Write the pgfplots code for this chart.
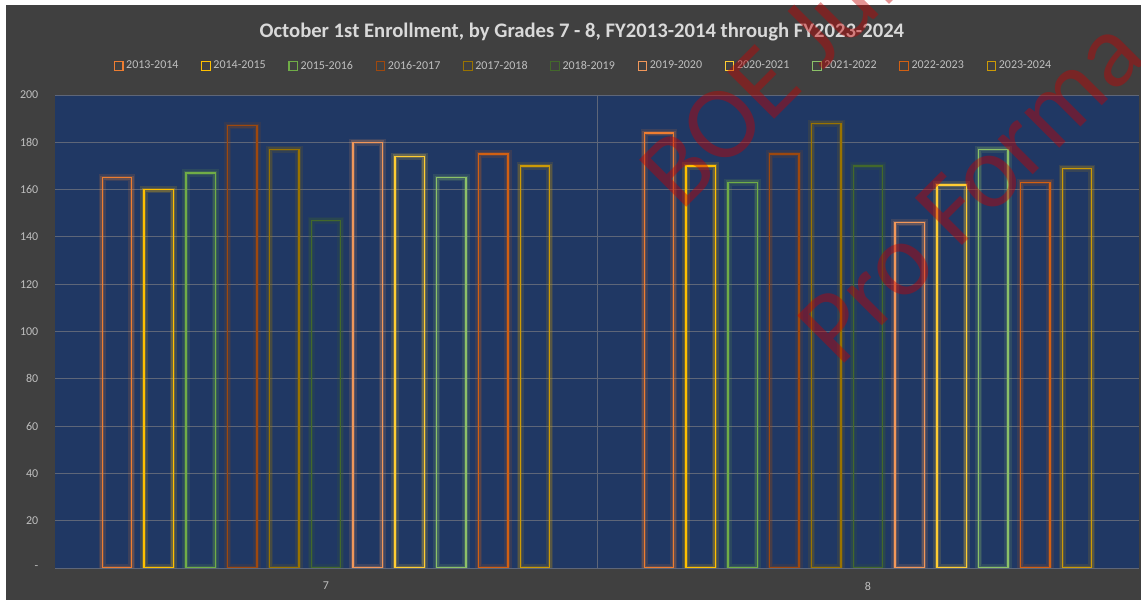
\documentclass[border=0pt]{standalone}
\usepackage{pgfplots}
\pgfplotsset{compat=1.18}
\usepackage{fontspec}
\setmainfont{Carlito}

\definecolor{bgc}{HTML}{404040}
\definecolor{plotc}{HTML}{203864}
\definecolor{gridc}{HTML}{5E6678}
\definecolor{titlec}{HTML}{D9D9D9}
\definecolor{labc}{HTML}{BFBFBF}
\definecolor{wmc}{HTML}{C80000}
\definecolor{s1}{HTML}{ED7D31}
\definecolor{s2}{HTML}{FFC000}
\definecolor{s3}{HTML}{70AD47}
\definecolor{s4}{HTML}{9E480E}
\definecolor{s5}{HTML}{997300}
\definecolor{s6}{HTML}{43682B}
\definecolor{s7}{HTML}{F1975A}
\definecolor{s8}{HTML}{FFCD33}
\definecolor{s9}{HTML}{8CC168}
\definecolor{s10}{HTML}{D26012}
\definecolor{s11}{HTML}{CC9A06}

% bar outline with a soft halo; legend squares are added separately
\pgfplotsset{
  xlbar/.style={draw=#1, fill=none, line width=1.1pt, forget plot,
    /tikz/preaction={draw=#1, draw opacity=0.14, line width=5.5pt},
    /tikz/preaction={draw=#1, draw opacity=0.22, line width=3pt}},
}

\begin{document}
\begin{tikzpicture}
% canvas, 1px = 0.75pt, origin at the plot area's lower left corner
\begin{scope}[x=0.75pt, y=-0.75pt, shift={(-41.25pt,426pt)}]
  \fill[white] (0,0) rectangle (1141,605);
  \fill[bgc] (6,5) rectangle (1141,600);
\end{scope}

% grade 7 at x=0, grade 8 at x=1; each season sits at its own offset
\begin{axis}[
  scale only axis, width=813pt, height=354.75pt,
  at={(0pt,0pt)}, anchor=south west,
  xmin=-0.5, xmax=1.5, ymin=0, ymax=200,
  ybar, bar width=22pt,
  every axis plot post/.append style={bar shift=0pt,
    legend image code/.code={\draw[##1, fill=none, line width=0.8pt] (0pt,-3.2pt) rectangle (6.4pt,3.2pt);}},
  axis background/.style={fill=plotc},
  axis line style={draw=none},
  major tick length=0pt,
  xtick={0,1}, xticklabels={7,8},
  ytick={0,20,...,200},
  yticklabels={-,20,40,60,80,100,120,140,160,180,200},
  ymajorgrids, major grid style={draw=gridc, line width=0.6pt},
  extra x ticks={0.5}, extra x tick labels={}, extra x tick style={grid=major},
  tick label style={font=\fontsize{9}{11}\selectfont, text=labc},
  yticklabel style={xshift=-9pt},
  xticklabel style={yshift=-7pt},
  title={October 1st Enrollment, by Grades 7 - 8, FY2013-2014 through FY2023-2024},
  title style={at={(0.486,1.1163)}, anchor=center, yshift=0pt,
    font=\bfseries\fontsize{15.5}{18}\selectfont, text=titlec},
  legend columns=11,
  legend style={at={(0.4879,1.0613)}, anchor=center, draw=none, fill=none,
    font=\fontsize{9}{11}\selectfont, text=labc,
    /tikz/every even column/.append style={column sep=15pt}},
]
\addplot[xlbar=s1]  coordinates {(-0.3856,165) (0.6144,184)};
\addplot[xlbar=s2]  coordinates {(-0.3085,160) (0.6915,170)};
\addplot[xlbar=s3]  coordinates {(-0.2314,167) (0.7686,163)};
\addplot[xlbar=s4]  coordinates {(-0.1542,187) (0.8458,175)};
\addplot[xlbar=s5]  coordinates {(-0.0771,177) (0.9229,188)};
\addplot[xlbar=s6]  coordinates {(0,147) (1,170)};
\addplot[xlbar=s7]  coordinates {(0.0771,180) (1.0771,146)};
\addplot[xlbar=s8]  coordinates {(0.1542,174) (1.1542,162)};
\addplot[xlbar=s9]  coordinates {(0.2314,165) (1.2314,177)};
\addplot[xlbar=s10] coordinates {(0.3085,175) (1.3085,163)};
\addplot[xlbar=s11] coordinates {(0.3856,170) (1.3856,169)};
\addlegendimage{draw=s1}
\addlegendimage{draw=s2}
\addlegendimage{draw=s3}
\addlegendimage{draw=s4}
\addlegendimage{draw=s5}
\addlegendimage{draw=s6}
\addlegendimage{draw=s7}
\addlegendimage{draw=s8}
\addlegendimage{draw=s9}
\addlegendimage{draw=s10}
\addlegendimage{draw=s11}
\legend{2013-2014,2014-2015,2015-2016,2016-2017,2017-2018,2018-2019,2019-2020,2020-2021,2021-2022,2022-2023,2023-2024}
\end{axis}

% watermark
\begin{scope}
\clip (-41.25pt,-27.75pt) rectangle (814.5pt,426pt);
\begin{scope}[x=0.75pt, y=-0.75pt, shift={(-41.25pt,426pt)}]
  \node[rotate=45, anchor=base west, inner sep=0pt, text=wmc, text opacity=0.42,
    font=\fontsize{78}{80}\selectfont] at (681,213) {BOE June};
  \node[rotate=45, anchor=base west, inner sep=0pt, text=wmc, text opacity=0.42,
    font=\fontsize{78}{80}\selectfont] at (839,369) {Pro Forma};
\end{scope}
\end{scope}
\end{tikzpicture}
\end{document}
